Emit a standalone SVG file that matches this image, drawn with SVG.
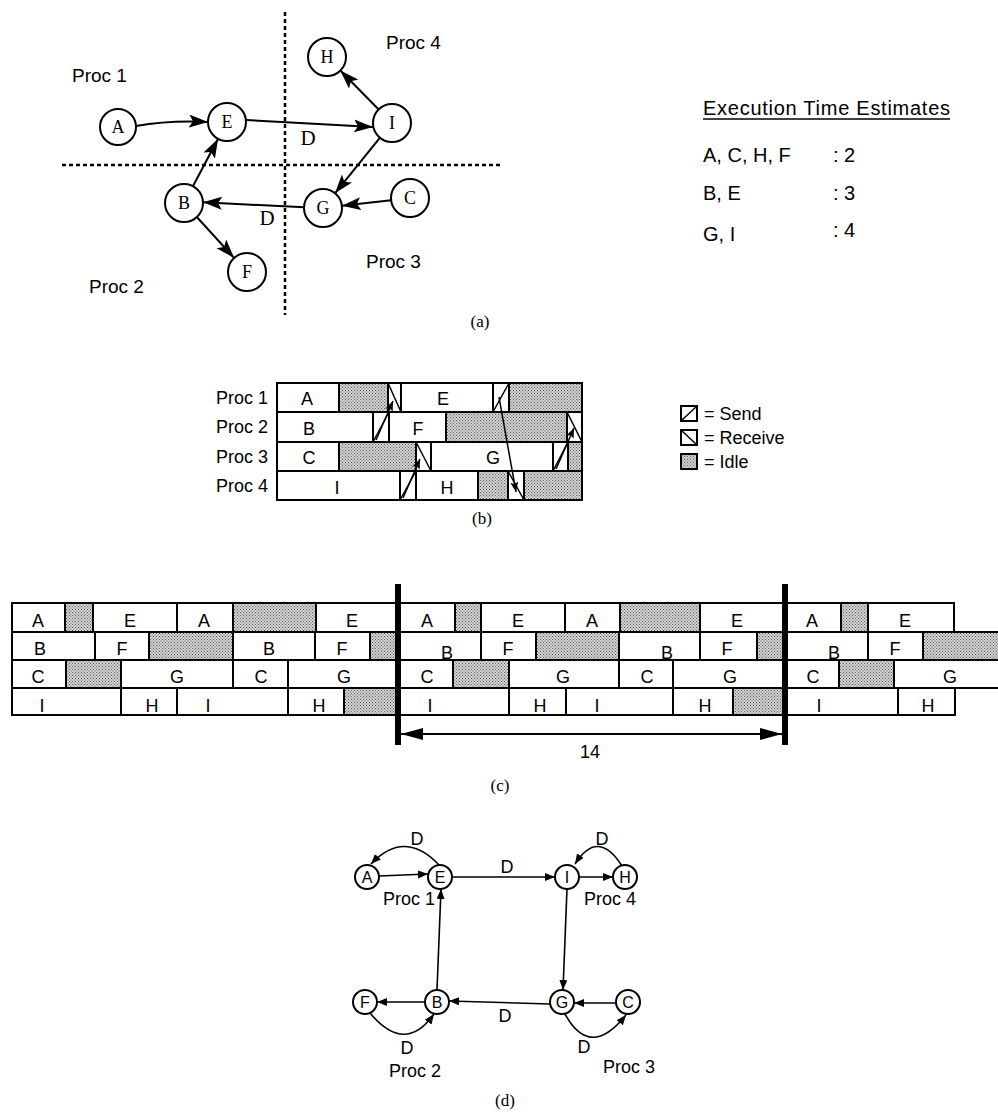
<svg xmlns="http://www.w3.org/2000/svg" width="998" height="1113" viewBox="0 0 998 1113">
<style>
.sans{font-family:"Liberation Sans",Arial,sans-serif;fill:#000}
.serif{font-family:"Liberation Serif","Times New Roman",serif;fill:#000}
.nd{fill:#fff;stroke:#000;stroke-width:2}
.cell{fill:#fff;stroke:#000;stroke-width:2}
.idle{fill:url(#idle);stroke:#000;stroke-width:2}
.hatch{stroke:#000;stroke-width:1.5;fill:none}
.dash{stroke:#000;stroke-width:2.5;stroke-dasharray:4 3;fill:none}
.ea{stroke:#000;stroke-width:2;fill:none;marker-end:url(#bigArrow)}
.eb{stroke:#000;stroke-width:1.5;fill:none;marker-end:url(#smallArrow)}
.ed{stroke:#000;stroke-width:1.6;fill:none;marker-end:url(#dArrow)}
.lbl{font-size:18px;text-anchor:middle}
</style>
<defs>
<pattern id="idle" width="3" height="3" patternUnits="userSpaceOnUse">
<rect width="3" height="3" fill="#d4d4d4"/>
<rect width="1" height="1" fill="#5a5a5a"/>
<rect x="1.5" y="1.5" width="1" height="1" fill="#5a5a5a"/>
</pattern>
<marker id="bigArrow" markerUnits="userSpaceOnUse" markerWidth="22" markerHeight="14" refX="19" refY="6.5" orient="auto">
<path d="M0,0 L19,6.5 L0,13 L4,6.5 z" fill="#000"/>
</marker>
<marker id="smallArrow" markerUnits="userSpaceOnUse" markerWidth="12" markerHeight="10" refX="10" refY="4" orient="auto">
<path d="M0,0 L10,4 L0,8 L2,4 z" fill="#000"/>
</marker>
<marker id="dArrow" markerUnits="userSpaceOnUse" markerWidth="12" markerHeight="10" refX="10" refY="4" orient="auto">
<path d="M0,0 L10,4 L0,8 z" fill="#000"/>
</marker>
<marker id="dimArrowEnd" markerUnits="userSpaceOnUse" markerWidth="24" markerHeight="14" refX="22" refY="6" orient="auto">
<path d="M0,0 L22,6 L0,12 z" fill="#000"/>
</marker>
<marker id="dimArrowStart" markerUnits="userSpaceOnUse" markerWidth="24" markerHeight="14" refX="0" refY="6" orient="auto">
<path d="M22,0 L0,6 L22,12 z" fill="#000"/>
</marker>
</defs>
<rect width="998" height="1113" fill="#fff"/>

<!-- ===== (a) ===== -->
<g id="a-partitions">
<line class="dash" x1="285" y1="12" x2="285" y2="315"/>
<line class="dash" x1="62" y1="165" x2="500" y2="165"/>
</g>
<g id="a-labels" class="sans" font-size="19">
<text x="72" y="82">Proc 1</text>
<text x="386" y="49">Proc 4</text>
<text x="89" y="293">Proc 2</text>
<text x="366" y="268">Proc 3</text>
</g>
<g id="a-connectors">
<path class="ea" d="M136,126 Q170,120 208,122"/>
<path class="ea" d="M246,120 L373,127"/>
<path class="ea" d="M378.7,109.5 L340.3,70.5"/>
<path class="ea" d="M380,137.7 L335,193.3"/>
<path class="ea" d="M391.1,200.2 L341.9,205.8"/>
<path class="ea" d="M304,207.3 L203,202.3"/>
<path class="ea" d="M192.9,186.2 L218.1,138.8"/>
<path class="ea" d="M196.8,217 L234.2,258"/>
<text class="serif" font-size="21" x="308" y="145" text-anchor="middle">D</text>
<text class="serif" font-size="21" x="267" y="225" text-anchor="middle">D</text>
</g>
<g id="a-A"><circle class="nd" cx="118" cy="127" r="18"/><text class="serif" font-size="18" x="118" y="133" text-anchor="middle">A</text></g>
<g id="a-E"><circle class="nd" cx="227" cy="122" r="19"/><text class="serif" font-size="18" x="227" y="128" text-anchor="middle">E</text></g>
<g id="a-H"><circle class="nd" cx="327" cy="57" r="19"/><text class="serif" font-size="18" x="327" y="63" text-anchor="middle">H</text></g>
<g id="a-I"><circle class="nd" cx="392" cy="123" r="19"/><text class="serif" font-size="18" x="392" y="129" text-anchor="middle">I</text></g>
<g id="a-B"><circle class="nd" cx="184" cy="203" r="19"/><text class="serif" font-size="18" x="184" y="209" text-anchor="middle">B</text></g>
<g id="a-F"><circle class="nd" cx="247" cy="272" r="19"/><text class="serif" font-size="18" x="247" y="278" text-anchor="middle">F</text></g>
<g id="a-G"><circle class="nd" cx="323" cy="208" r="19"/><text class="serif" font-size="18" x="323" y="214" text-anchor="middle">G</text></g>
<g id="a-C"><circle class="nd" cx="410" cy="198" r="19"/><text class="serif" font-size="18" x="410" y="204" text-anchor="middle">C</text></g>

<g id="a-table" class="sans" font-size="20">
<text x="703" y="115" textLength="247" lengthAdjust="spacing">Execution Time Estimates</text>
<line x1="703" y1="119" x2="950" y2="119" stroke="#000" stroke-width="1.5"/>
<text x="703" y="162">A, C, H, F</text>
<text x="833" y="162">: 2</text>
<text x="703" y="200">B, E</text>
<text x="833" y="200">: 3</text>
<text x="703" y="241">G, I</text>
<text x="833" y="237">: 4</text>
</g>
<text class="serif" font-size="17" x="480" y="327" text-anchor="middle">(a)</text>

<!-- ===== (b) ===== -->
<g id="b-rowlabels" class="sans" font-size="18" text-anchor="end">
<text x="268" y="404">Proc 1</text>
<text x="268" y="433">Proc 2</text>
<text x="268" y="463">Proc 3</text>
<text x="268" y="492">Proc 4</text>
</g>
<g id="b-chart">
<rect class="cell" x="277" y="383" width="62" height="29"/>
<rect class="idle" x="339" y="383" width="49" height="29"/>
<rect class="cell" x="388" y="383" width="13" height="29"/><line class="hatch" x1="388" y1="383" x2="401" y2="412"/>
<rect class="cell" x="401" y="383" width="92" height="29"/>
<rect class="cell" x="493" y="383" width="16" height="29"/><line class="hatch" x1="493" y1="412" x2="509" y2="383"/>
<rect class="idle" x="509" y="383" width="73" height="29"/>
<rect class="cell" x="277" y="412" width="96" height="30"/>
<rect class="cell" x="373" y="412" width="16" height="30"/><line class="hatch" x1="373" y1="442" x2="389" y2="412"/>
<rect class="cell" x="389" y="412" width="57" height="30"/>
<rect class="idle" x="446" y="412" width="121" height="30"/>
<rect class="cell" x="567" y="412" width="15" height="30"/><line class="hatch" x1="567" y1="412" x2="582" y2="442"/>
<rect class="cell" x="277" y="442" width="62" height="29"/>
<rect class="idle" x="339" y="442" width="77" height="29"/>
<rect class="cell" x="416" y="442" width="15" height="29"/><line class="hatch" x1="416" y1="442" x2="431" y2="471"/>
<rect class="cell" x="431" y="442" width="122" height="29"/>
<rect class="cell" x="553" y="442" width="15" height="29"/><line class="hatch" x1="553" y1="471" x2="568" y2="442"/>
<rect class="idle" x="568" y="442" width="14" height="29"/>
<rect class="cell" x="277" y="471" width="123" height="29"/>
<rect class="cell" x="400" y="471" width="16" height="29"/><line class="hatch" x1="400" y1="500" x2="416" y2="471"/>
<rect class="cell" x="416" y="471" width="62" height="29"/>
<rect class="idle" x="478" y="471" width="30" height="29"/>
<rect class="cell" x="508" y="471" width="16" height="29"/><line class="hatch" x1="508" y1="471" x2="524" y2="500"/>
<rect class="idle" x="524" y="471" width="58" height="29"/>
</g>
<g id="b-celllabels" class="sans lbl">
<text x="307" y="405">A</text>
<text x="443" y="405">E</text>
<text x="309" y="435">B</text>
<text x="418" y="435">F</text>
<text x="309" y="464">C</text>
<text x="493" y="464">G</text>
<text x="337" y="494">I</text>
<text x="447" y="494">H</text>
</g>
<g id="b-connectors">
<path class="eb" d="M376,440 L393,401"/>
<path class="eb" d="M403,498 L420,459"/>
<path class="eb" d="M499,397 L516,492"/>
<path class="eb" d="M556,469 L574,428"/>
</g>
<g id="b-legend" class="sans" font-size="18">
<rect class="cell" x="681" y="406" width="16" height="15"/><line class="hatch" x1="681" y1="421" x2="697" y2="406"/>
<text x="704" y="420">= Send</text>
<rect class="cell" x="681" y="430" width="16" height="15"/><line class="hatch" x1="681" y1="430" x2="697" y2="445"/>
<text x="704" y="444">= Receive</text>
<rect class="idle" x="681" y="454" width="16" height="15"/>
<text x="704" y="468">= Idle</text>
</g>
<text class="serif" font-size="17" x="482" y="524" text-anchor="middle">(b)</text>

<!-- ===== (c) ===== -->
<g id="c-chart">
<rect class="cell" x="12" y="603" width="53" height="29"/>
<rect class="idle" x="65" y="603" width="28" height="29"/>
<rect class="cell" x="93" y="603" width="84" height="29"/>
<rect class="cell" x="177" y="603" width="56" height="29"/>
<rect class="idle" x="233" y="603" width="83" height="29"/>
<rect class="cell" x="316" y="603" width="81" height="29"/>
<rect class="cell" x="397" y="603" width="58" height="29"/>
<rect class="idle" x="455" y="603" width="26" height="29"/>
<rect class="cell" x="481" y="603" width="84" height="29"/>
<rect class="cell" x="565" y="603" width="55" height="29"/>
<rect class="idle" x="620" y="603" width="80" height="29"/>
<rect class="cell" x="700" y="603" width="85" height="29"/>
<rect class="cell" x="785" y="603" width="56" height="29"/>
<rect class="idle" x="841" y="603" width="27" height="29"/>
<rect class="cell" x="868" y="603" width="86" height="29"/>
<rect class="cell" x="12" y="632" width="83" height="28"/>
<rect class="cell" x="95" y="632" width="54" height="28"/>
<rect class="idle" x="149" y="632" width="84" height="28"/>
<rect class="cell" x="233" y="632" width="82" height="28"/>
<rect class="cell" x="315" y="632" width="55" height="28"/>
<rect class="idle" x="370" y="632" width="27" height="28"/>
<rect class="cell" x="397" y="632" width="84" height="28"/>
<rect class="cell" x="481" y="632" width="55" height="28"/>
<rect class="idle" x="536" y="632" width="83" height="28"/>
<rect class="cell" x="619" y="632" width="81" height="28"/>
<rect class="cell" x="700" y="632" width="57" height="28"/>
<rect class="idle" x="757" y="632" width="28" height="28"/>
<rect class="cell" x="785" y="632" width="83" height="28"/>
<rect class="cell" x="868" y="632" width="55" height="28"/>
<rect class="idle" x="923" y="632" width="80" height="28"/>
<rect class="cell" x="12" y="660" width="54" height="28"/>
<rect class="idle" x="66" y="660" width="55" height="28"/>
<rect class="cell" x="121" y="660" width="112" height="28"/>
<rect class="cell" x="233" y="660" width="55" height="28"/>
<rect class="cell" x="288" y="660" width="109" height="28"/>
<rect class="cell" x="397" y="660" width="56" height="28"/>
<rect class="idle" x="453" y="660" width="56" height="28"/>
<rect class="cell" x="509" y="660" width="110" height="28"/>
<rect class="cell" x="619" y="660" width="54" height="28"/>
<rect class="cell" x="673" y="660" width="112" height="28"/>
<rect class="cell" x="785" y="660" width="54" height="28"/>
<rect class="idle" x="839" y="660" width="55" height="28"/>
<rect class="cell" x="894" y="660" width="110" height="28"/>
<rect class="cell" x="12" y="688" width="109" height="27"/>
<rect class="cell" x="121" y="688" width="56" height="27"/>
<rect class="cell" x="177" y="688" width="111" height="27"/>
<rect class="cell" x="288" y="688" width="56" height="27"/>
<rect class="idle" x="344" y="688" width="53" height="27"/>
<rect class="cell" x="397" y="688" width="112" height="27"/>
<rect class="cell" x="509" y="688" width="57" height="27"/>
<rect class="cell" x="566" y="688" width="107" height="27"/>
<rect class="cell" x="673" y="688" width="60" height="27"/>
<rect class="idle" x="733" y="688" width="52" height="27"/>
<rect class="cell" x="785" y="688" width="113" height="27"/>
<rect class="cell" x="898" y="688" width="57" height="27"/>
</g>
<g id="c-labels" class="sans lbl">
<text x="38" y="627">A</text><text x="130" y="627">E</text><text x="204" y="627">A</text><text x="352" y="627">E</text>
<text x="427" y="627">A</text><text x="518" y="627">E</text><text x="592" y="627">A</text><text x="737" y="627">E</text>
<text x="812" y="627">A</text><text x="905" y="627">E</text>
<text x="40" y="655">B</text><text x="122" y="655">F</text><text x="269" y="655">B</text><text x="342" y="655">F</text>
<text x="447" y="659">B</text><text x="508" y="655">F</text><text x="667" y="659">B</text><text x="727" y="655">F</text>
<text x="834" y="659">B</text><text x="895" y="655">F</text>
<text x="38" y="683">C</text><text x="177" y="683">G</text><text x="261" y="683">C</text><text x="344" y="683">G</text>
<text x="427" y="683">C</text><text x="563" y="683">G</text><text x="647" y="683">C</text><text x="730" y="683">G</text>
<text x="813" y="683">C</text><text x="950" y="683">G</text>
<text x="42" y="712">I</text><text x="152" y="712">H</text><text x="208" y="712">I</text><text x="319" y="712">H</text>
<text x="430" y="712">I</text><text x="540" y="712">H</text><text x="597" y="712">I</text><text x="705" y="712">H</text>
<text x="819" y="712">I</text><text x="928" y="712">H</text>
</g>
<g id="c-period">
<rect x="395" y="584" width="6" height="161" fill="#000"/>
<rect x="782" y="584" width="6" height="161" fill="#000"/>
<line x1="401" y1="734" x2="782" y2="734" stroke="#000" stroke-width="2" marker-start="url(#dimArrowStart)" marker-end="url(#dimArrowEnd)"/>
<text class="sans" font-size="18" x="590" y="758" text-anchor="middle">14</text>
</g>
<text class="serif" font-size="17" x="500" y="791" text-anchor="middle">(c)</text>

<!-- ===== (d) ===== -->
<g id="d-labels" class="sans" font-size="18">
<text x="383" y="905">Proc 1</text>
<text x="584" y="905">Proc 4</text>
<text x="389" y="1077">Proc 2</text>
<text x="603" y="1073">Proc 3</text>
</g>
<g id="d-connectors">
<path class="ed" d="M440,866 Q405,828 371,864"/>
<path class="ed" d="M622,866 Q598,828 575,864"/>
<path class="ed" d="M370,1013 Q405,1055 434,1014"/>
<path class="ed" d="M565,1014 Q590,1060 626,1015"/>
<path class="ed" d="M379,876 L428,874"/>
<path class="ed" d="M452,877 L555,877"/>
<path class="ed" d="M579,877 L613,877"/>
<path class="ed" d="M567,889 L563,990"/>
<path class="ed" d="M437,990 L441,889"/>
<path class="ed" d="M425,1002 L377,1002"/>
<path class="ed" d="M550,1004 L449,1001"/>
<path class="ed" d="M616,1003 L574,1003"/>
<g class="sans lbl">
<text x="417" y="845">D</text>
<text x="507" y="873">D</text>
<text x="602" y="845">D</text>
<text x="505" y="1022">D</text>
<text x="407" y="1054">D</text>
<text x="584" y="1053">D</text>
</g>
</g>
<g id="d-A"><circle class="nd" cx="367" cy="877" r="12"/><text class="sans" font-size="16" x="367" y="883" text-anchor="middle">A</text></g>
<g id="d-E"><circle class="nd" cx="440" cy="877" r="12"/><text class="sans" font-size="16" x="440" y="883" text-anchor="middle">E</text></g>
<g id="d-I"><circle class="nd" cx="567" cy="877" r="12"/><text class="sans" font-size="16" x="567" y="883" text-anchor="middle">I</text></g>
<g id="d-H"><circle class="nd" cx="625" cy="877" r="12"/><text class="sans" font-size="16" x="625" y="883" text-anchor="middle">H</text></g>
<g id="d-F"><circle class="nd" cx="365" cy="1002" r="12"/><text class="sans" font-size="16" x="365" y="1008" text-anchor="middle">F</text></g>
<g id="d-B"><circle class="nd" cx="437" cy="1002" r="12"/><text class="sans" font-size="16" x="437" y="1008" text-anchor="middle">B</text></g>
<g id="d-G"><circle class="nd" cx="562" cy="1002" r="12"/><text class="sans" font-size="16" x="562" y="1008" text-anchor="middle">G</text></g>
<g id="d-C"><circle class="nd" cx="628" cy="1002" r="12"/><text class="sans" font-size="16" x="628" y="1008" text-anchor="middle">C</text></g>
<text class="serif" font-size="17" x="505" y="1106" text-anchor="middle">(d)</text>
</svg>
